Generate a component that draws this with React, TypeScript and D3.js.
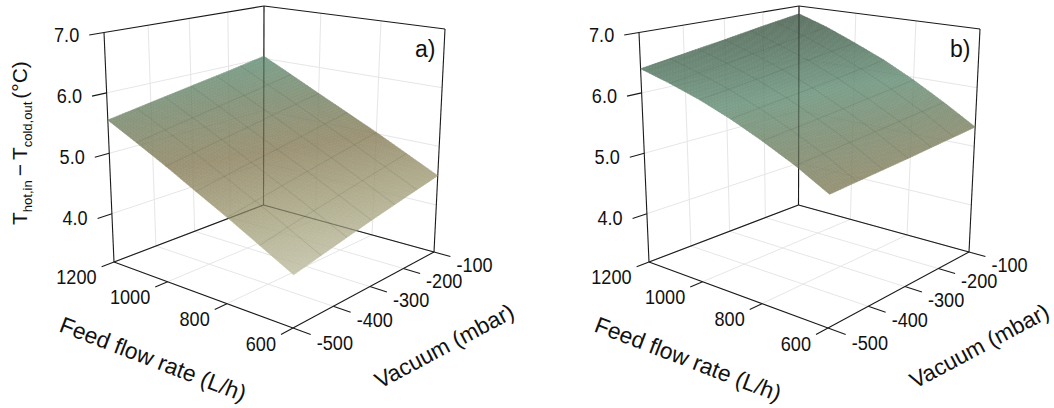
import React from "react";
import * as d3 from "d3";

// ---- data ----
const feedValues = [600, 700, 800, 900, 1000, 1100, 1200];
const vacuumValues = [-500, -400, -300, -200, -100];
const feedTicks = [1200, 1000, 800, 600];
const vacuumTicks = [-100, -200, -300, -400, -500];
const tempTicks = [7, 6, 5, 4];

// rows: feed, columns: vacuum
const surfaceA = [
  [3.96, 4.1, 4.24, 4.37, 4.5],
  [4.23, 4.37, 4.5, 4.63, 4.76],
  [4.5, 4.63, 4.76, 4.89, 5.02],
  [4.76, 4.89, 5.01, 5.14, 5.27],
  [5.03, 5.15, 5.27, 5.4, 5.52],
  [5.29, 5.41, 5.53, 5.65, 5.78],
  [5.55, 5.67, 5.79, 5.91, 6.04],
];
const surfaceB = [
  [5.11, 5.16, 5.21, 5.27, 5.33],
  [5.4, 5.46, 5.52, 5.59, 5.65],
  [5.65, 5.72, 5.79, 5.87, 5.95],
  [5.88, 5.96, 6.04, 6.13, 6.22],
  [6.08, 6.17, 6.26, 6.36, 6.45],
  [6.25, 6.35, 6.45, 6.56, 6.67],
  [6.4, 6.51, 6.62, 6.74, 6.85],
];
const colorStops = [3.9, 4.5, 5.0, 5.5, 6.0, 6.5, 6.9];
const colorValues = ["#cccbb4", "#b0ad8e", "#9c9374", "#8a967d", "#7c9f8a", "#698372", "#5e7163"];

// ---- layout of the perspective box ----
type P = [number, number];
const floorCorners: P[] = [[114, 262], [293, 328], [434, 252], [263.5, 205]];
const ceilCorners: P[] = [[104, 32.5], [296, 62], [445, 29], [264, 6]];
const panelOffset = 535;
const alpha = 0.84;

// homography from the unit square to a quad (0,0)->q0 (1,0)->q1 (1,1)->q2 (0,1)->q3
function homography(q: P[]) {
  const [[x0, y0], [x1, y1], [x2, y2], [x3, y3]] = q;
  const dx1 = x1 - x2, dx2 = x3 - x2, sx = x0 - x1 + x2 - x3;
  const dy1 = y1 - y2, dy2 = y3 - y2, sy = y0 - y1 + y2 - y3;
  const det = dx1 * dy2 - dx2 * dy1;
  const g = (sx * dy2 - dx2 * sy) / det;
  const h = (dx1 * sy - sx * dy1) / det;
  const a = x1 - x0 + g * x1, b = x3 - x0 + h * x3;
  const d = y1 - y0 + g * y1, e = y3 - y0 + h * y3;
  return (u: number, v: number): P => {
    const w = g * u + h * v + 1;
    return [(a * u + b * v + x0) / w, (d * u + e * v + y0) / w];
  };
}
const floorH = homography(floorCorners);
const ceilH = homography(ceilCorners);
const uScale = d3.scaleLinear().domain([1200, 600]).range([0, 1]);
const vScale = d3.scaleLinear().domain([-500, -100]).range([0, 1]);
const tScale = d3.scaleLinear().domain([3.2, 7]).range([0, 1]);

function project(feed: number, vac: number, temp: number): P {
  const u = uScale(feed), v = vScale(vac), t = tScale(temp);
  const a = floorH(u, v), b = ceilH(u, v);
  return [a[0] + (b[0] - a[0]) * t, a[1] + (b[1] - a[1]) * t];
}
const zMin = 3.2, zMax = 7;
const line = d3.line<P>().x((d) => d[0]).y((d) => d[1]);

// colours are read as they appear; undo the surface opacity
const undim = (c: string) => {
  const r = d3.rgb(c);
  const f = (x: number) => Math.max(0, (x - 255 * (1 - alpha)) / alpha);
  return d3.rgb(f(r.r), f(r.g), f(r.b)).formatHex();
};
const colorScale = d3.scaleLinear<string>().domain(colorStops).range(colorValues.map(undim)).clamp(true);

const feedIdx = d3.scaleLinear().domain([600, 1200]).range([0, feedValues.length - 1]);
const vacIdx = d3.scaleLinear().domain([-500, -100]).range([0, vacuumValues.length - 1]);
function heightAt(grid: number[][], feed: number, vac: number) {
  const fi = feedIdx(feed), vi = vacIdx(vac);
  const f0 = Math.min(Math.floor(fi), feedValues.length - 2), v0 = Math.min(Math.floor(vi), vacuumValues.length - 2);
  const a = fi - f0, b = vi - v0;
  return (
    grid[f0][v0] * (1 - a) * (1 - b) + grid[f0 + 1][v0] * a * (1 - b) +
    grid[f0][v0 + 1] * (1 - a) * b + grid[f0 + 1][v0 + 1] * a * b
  );
}

const GRID = "#e6e6e6";
const FONT = "'Liberation Sans', Arial, sans-serif";

function Surface({ grid }: { grid: number[][] }) {
  const n = 60;
  const fs = d3.range(n + 1).map((i) => 600 + (i * 600) / n);
  const vs = d3.range(n + 1).map((i) => -500 + (i * 400) / n);
  const quads: React.ReactNode[] = [];
  for (let i = 0; i < n; i++)
    for (let j = 0; j < n; j++) {
      const pts: P[] = [
        [fs[i], vs[j]], [fs[i + 1], vs[j]], [fs[i + 1], vs[j + 1]], [fs[i], vs[j + 1]],
      ].map(([f, v]) => project(f, v, heightAt(grid, f, v)));
      const zc = heightAt(grid, (fs[i] + fs[i + 1]) / 2, (vs[j] + vs[j + 1]) / 2);
      const c = colorScale(zc);
      quads.push(<path key={i + "-" + j} d={line(pts)! + "Z"} fill={c} stroke={c} strokeWidth={0.6} />);
    }
  const meshFeeds = d3.range(1, 6).map((i) => 600 + i * 100);
  const meshVacs = d3.range(1, 6).map((i) => -500 + (i * 400) / 6);
  return (
    <g>
      <g opacity={alpha}>{quads}</g>
      <g fill="none" stroke="#3d4a3a" strokeOpacity={0.23} strokeWidth={0.7}>
        {meshFeeds.map((f) => (
          <path key={"mf" + f} d={line(vs.map((v) => project(f, v, heightAt(grid, f, v))))!} />
        ))}
        {meshVacs.map((v) => (
          <path key={"mv" + v} d={line(fs.map((f) => project(f, v, heightAt(grid, f, v))))!} />
        ))}
      </g>
    </g>
  );
}

function Panel({ grid, label, offset, yTitle }: { grid: number[][]; label: string; offset: number; yTitle: boolean }) {
  const seg = (a: P, b: P) => line([a, b])!;
  const grids: string[] = [];
  [-400, -300, -200].forEach((v) => {
    grids.push(seg(project(1200, v, zMin), project(1200, v, zMax)));
    grids.push(seg(project(1200, v, zMin), project(600, v, zMin)));
  });
  [1000, 800].forEach((f) => {
    grids.push(seg(project(f, -100, zMin), project(f, -100, zMax)));
    grids.push(seg(project(f, -500, zMin), project(f, -100, zMin)));
  });
  [6, 5, 4].forEach((z) => {
    grids.push(seg(project(1200, -500, z), project(1200, -100, z)));
    grids.push(seg(project(1200, -100, z), project(600, -100, z)));
  });
  const boxBlack = [
    seg(project(1200, -500, zMin), project(600, -500, zMin)),
    seg(project(600, -500, zMin), project(600, -100, zMin)),
    seg(project(1200, -500, zMin), project(1200, -100, zMin)),
    seg(project(1200, -100, zMin), project(600, -100, zMin)),
    seg(project(1200, -500, zMax), project(1200, -100, zMax)),
    seg(project(1200, -100, zMax), project(600, -100, zMax)),
    seg(project(1200, -500, zMin), project(1200, -500, zMax)),
    seg(project(600, -100, zMin), project(600, -100, zMax)),
    seg(project(1200, -100, zMin), project(1200, -100, zMax)),
  ];
  const backEdges = [
    seg(project(1200, -500, zMin), project(1200, -100, zMin)),
    seg(project(1200, -100, zMin), project(600, -100, zMin)),
    seg(project(1200, -100, zMin), project(1200, -100, zMax)),
  ];
  const tick = (x: number, y: number, anchor: string, s: string) => (
    <text
      transform={`translate(${x},${y}) scale(0.93,1)`}
      textAnchor={anchor}
      fontFamily={FONT}
      fontSize={19.5}
      fill="#111"
    >
      {s}
    </text>
  );
  return (
    <g transform={`translate(${offset},0)`}>
      <g fill="none" stroke={GRID} strokeWidth={1}>
        {grids.map((d, i) => <path key={i} d={d} />)}
      </g>
      <g fill="none" stroke="#1a1a1a" strokeWidth={1.1}>
        {boxBlack.map((d, i) => <path key={i} d={d} />)}
      </g>
      <Surface grid={grid} />
      <g fill="none" stroke="#222" strokeOpacity={0.22} strokeWidth={1.1}>
        {backEdges.map((d, i) => <path key={i} d={d} />)}
      </g>
      {tempTicks.map((z) => {
        const a = project(1200, -500, z), b = project(1200, -532, z);
        return (
          <g key={z}>
            <path d={seg(a, b)} stroke="#1a1a1a" strokeWidth={1.1} />
            {tick(b[0] - 10, b[1] + 7, "end", z.toFixed(1))}
          </g>
        );
      })}
      {feedTicks.map((f) => {
        const a = project(f, -500, zMin), b = project(f, -528, zMin);
        return (
          <g key={f}>
            <path d={seg(a, b)} stroke="#1a1a1a" strokeWidth={1.1} />
            {tick(b[0] - 5, b[1] + 17, "end", String(f))}
          </g>
        );
      })}
      {vacuumTicks.map((v) => {
        const a = project(600, v, zMin), b = project(550, v, zMin);
        return (
          <g key={v}>
            <path d={seg(a, b)} stroke="#1a1a1a" strokeWidth={1.1} />
            {tick(b[0] + 6, b[1] + 15, "start", String(v))}
          </g>
        );
      })}
      <text transform="translate(58,331) rotate(21)" fontFamily={FONT} fontSize={22.8} fill="#111">Feed flow rate (L/h)</text>
      <text transform="translate(380,389) rotate(-28)" fontFamily={FONT} fontSize={22.6} fill="#111">Vacuum (mbar)</text>
      <text x={415} y={57} fontFamily={FONT} fontSize={23} fill="#111">{label}</text>
      {yTitle && (
        <text transform="translate(27,225) rotate(-90)" fontFamily={FONT} fontSize={21} fill="#111">
          T<tspan fontSize={13} dy={5}>hot,in</tspan>
          <tspan dy={-5} dx={4}>−</tspan>
          <tspan dx={4}>T</tspan>
          <tspan fontSize={13} dy={5}>cold,out</tspan>
          <tspan dy={-5} dx={3}>(°C)</tspan>
        </text>
      )}
    </g>
  );
}

export default function App() {
  return (
    <svg
      width={1054}
      height={408}
      viewBox="0 0 1054 408"
      style={{ position: "fixed", left: 0, top: 0, background: "#fff" }}
    >
      <Panel grid={surfaceA} label="a)" offset={0} yTitle />
      <Panel grid={surfaceB} label="b)" offset={panelOffset} yTitle={false} />
    </svg>
  );
}
